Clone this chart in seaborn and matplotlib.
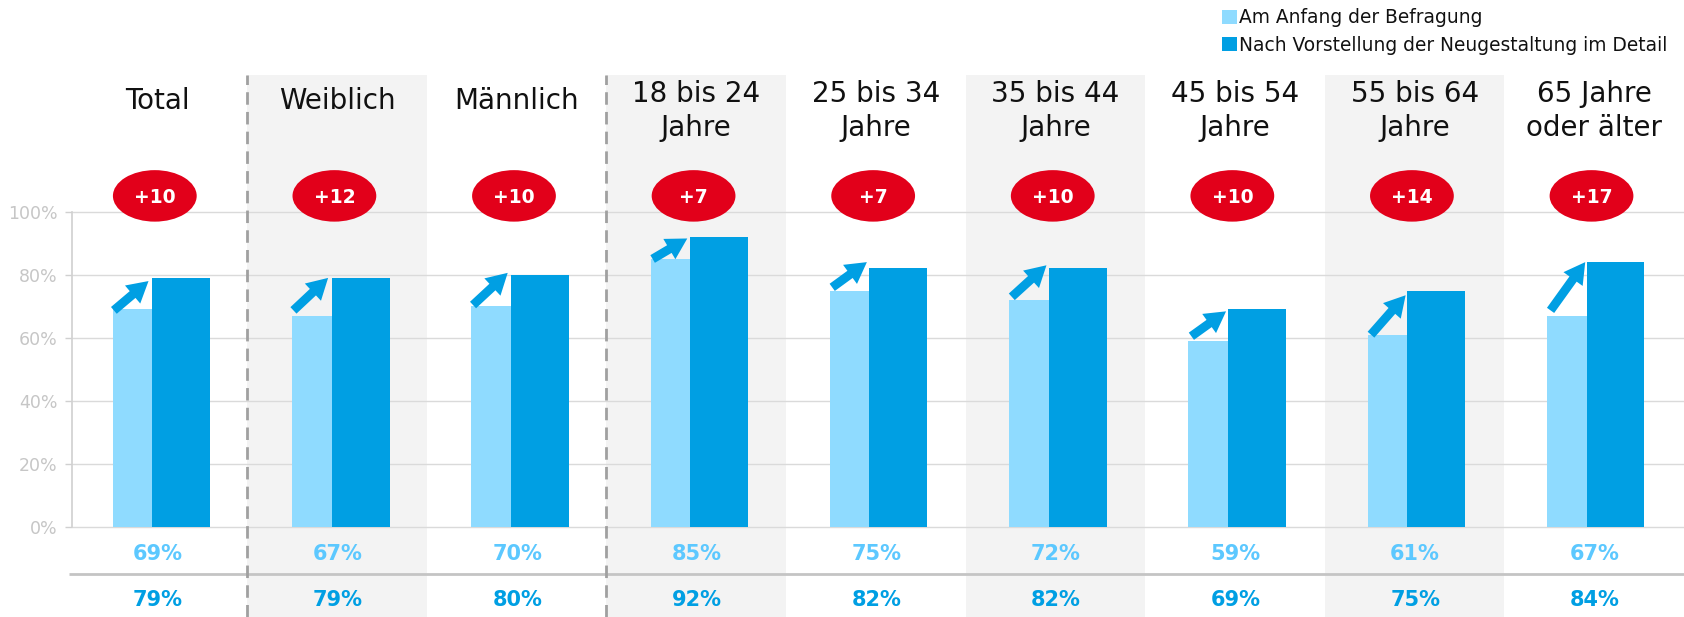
import matplotlib
matplotlib.use("Agg")
import matplotlib.pyplot as plt
from matplotlib.patches import Ellipse, Patch
import numpy as np
import seaborn as sns

categories = ["Total", "Weiblich", "Männlich", "18 bis 24\nJahre", "25 bis 34\nJahre",
              "35 bis 44\nJahre", "45 bis 54\nJahre", "55 bis 64\nJahre", "65 Jahre\noder älter"]
start_values = [69, 67, 70, 85, 75, 72, 59, 61, 67]
end_values = [79, 79, 80, 92, 82, 82, 69, 75, 84]
deltas = ["+10", "+12", "+10", "+7", "+7", "+10", "+10", "+14", "+17"]
arrow_from = [68.7, 68.7, 70.4, 85, 76, 73, 60.5, 61, 68.7]
arrow_to = [78, 79, 80.6, 91.5, 84, 83, 68.4, 73.5, 84]
y_ticks = [0, 20, 40, 60, 80, 100]
shaded_categories = [1, 3, 5, 7]
divider_positions = [0.5, 2.5]
series_names = ["Am Anfang der Befragung", "Nach Vorstellung der Neugestaltung im Detail"]

LIGHT, DARK, RED = "#8FDBFF", "#009FE3", "#E2001A"
LABEL_LIGHT = "#5CC8FF"

sns.set_theme(style="white")
plt.rcParams["font.family"] = ["DejaVu Sans"]

W, H = 1684, 617
fig = plt.figure(figsize=(W / 100, H / 100), dpi=100)
ax = fig.add_axes([0, 0, 1, 1])
x_left, x_right = -0.877, 8.5
y_low, y_high = -28.5, 167.1
y_band_top = 143.2
x_axis = (67 - 146.7) / 167.2
x = np.arange(len(categories))
bar_x = x * 0.9982

for i in shaded_categories:
    ax.axvspan(i - 0.5, i + 0.5, ymin=0, ymax=(y_band_top - y_low) / (y_high - y_low),
               color="#F3F3F3", lw=0, zorder=0)
ax.hlines(y_ticks, x_axis, x_right, color="#DADADA", lw=1.0, zorder=1)

sns.barplot(x=bar_x - 0.088, y=start_values, native_scale=True, width=0.323, color=LIGHT,
            saturation=1, ax=ax, zorder=2, legend=False, linewidth=0)
sns.barplot(x=bar_x + 0.133, y=end_values, native_scale=True, width=0.323, color=DARK,
            saturation=1, ax=ax, zorder=3, legend=False, linewidth=0)

ax.set_xlim(x_left, x_right)
ax.set_ylim(y_low, y_high)
ax.set_xlabel("")
ax.set_ylabel("")
ax.set_xticks([])
ax.set_yticks(y_ticks, [f"{t}%" for t in y_ticks])
ax.tick_params(axis="y", length=5, width=1.0, color="#D0D0D0", labelcolor="#C6C6C6",
               labelsize=12.5, pad=5.5, left=True)
for name in ["top", "right", "bottom"]:
    ax.spines[name].set_visible(False)
ax.spines["left"].set_position(("data", x_axis))
ax.spines["left"].set_bounds(0, 100)
ax.spines["left"].set_color("#D0D0D0")
ax.spines["left"].set_linewidth(1.2)

for d in divider_positions:
    ax.vlines(d, y_low, y_band_top, color="#A0A0A0", lw=2, linestyles=(0, (4.5, 2.6)), zorder=4)
ax.hlines(-15, (64 - 146.7) / 167.2, x_right, color="#C4C4C4", lw=2, zorder=3)

for i in x:
    two_lines = "\n" in categories[i]
    ax.text(i, 131.8 if two_lines else 135, categories[i], ha="center",
            va="center", fontsize=20, color="#111111", linespacing=1.27)
    ax.add_patch(Ellipse((i - 0.015, 105), 78 / 167.2, 48 / 2.94, color=RED, lw=0, zorder=5))
    ax.text(i - 0.015, 104.6, deltas[i], ha="center", va="center", color="white",
            fontsize=13.5, fontweight="bold", zorder=6)
    ax.text(i + 0.003, -8.4, f"{start_values[i]}%", ha="center", va="center",
            color=LABEL_LIGHT, fontsize=15, fontweight="bold")
    ax.text(i + 0.003, -23, f"{end_values[i]}%", ha="center", va="center",
            color=DARK, fontsize=15, fontweight="bold")
    ax.annotate("", xy=(i - 0.05, arrow_to[i]), xytext=(i - 0.243, arrow_from[i]),
                arrowprops=dict(arrowstyle="simple,head_length=0.75,head_width=0.85,tail_width=0.32",
                                color=DARK, lw=0, shrinkA=0, shrinkB=0, mutation_scale=20),
                zorder=7)

handles = [Patch(color=LIGHT, lw=0), Patch(color=DARK, lw=0)]
fig.legend(handles, series_names, loc="upper left", bbox_to_anchor=(1218 / W, 1 - 4.5 / H),
           frameon=False, fontsize=13.4, handlelength=0.8, handleheight=0.8,
           handletextpad=0.15, labelspacing=0.45, borderaxespad=0, borderpad=0.2,
           labelcolor="#111111")

fig.savefig("out.png", dpi=100)
